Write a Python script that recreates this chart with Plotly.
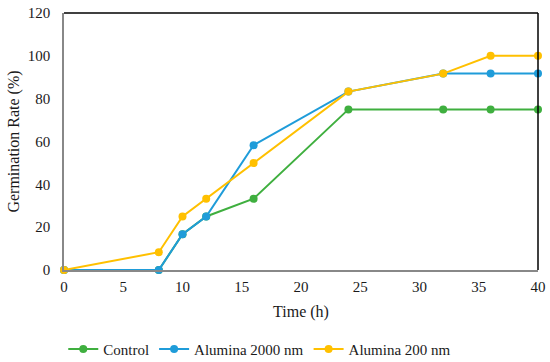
import plotly.graph_objects as go

time_h = [0, 8, 10, 12, 16, 24, 32, 36, 40]
control = [0, 0, 16.7, 25, 33.3, 75, 75, 75, 75]
alumina_2000 = [0, 0, 16.7, 25, 58.3, 83.3, 91.7, 91.7, 91.7]
alumina_200 = [0, 8.3, 25, 33.3, 50, 83.3, 91.7, 100, 100]

series = [
    ("Control", control, "#3FAF3F"),
    ("Alumina 2000 nm", alumina_2000, "#1F9CD9"),
    ("Alumina 200 nm", alumina_200, "#FFC000"),
]

FAM = "Liberation Serif"
INK = "#1a1a1a"

fig = go.Figure()
for name, vals, col in series:
    fig.add_trace(go.Scatter(x=time_h, y=vals, name=name, mode="lines+markers",
                             line=dict(color=col, width=2),
                             marker=dict(color=col, size=8), cliponaxis=False))

fig.update_layout(
    width=550, height=362,
    margin=dict(l=64, r=12, t=13, b=92, autoexpand=False),
    plot_bgcolor="white", paper_bgcolor="white",
    font=dict(family=FAM, color=INK, size=15),
    showlegend=True,
    legend=dict(orientation="h", x=0.413, xanchor="center", yref="container", y=0.035,
                yanchor="middle", font=dict(family=FAM, size=15, color=INK), tracegroupgap=0),
    xaxis=dict(range=[0, 40], dtick=5, showgrid=False, showline=True, automargin=False,
               linecolor="#888", linewidth=1.5, mirror=False, zeroline=False,
               ticks="", ticklabelstandoff=2,
               tickfont=dict(family=FAM, size=15, color=INK),
               title=dict(text="Time (h)", font=dict(family=FAM, size=16, color=INK), standoff=12)),
    yaxis=dict(range=[0, 120], dtick=20, showgrid=False, showline=True, automargin=False,
               linecolor="#888", linewidth=1.5, zeroline=False, ticks="", ticklabelstandoff=9,
               tickfont=dict(family=FAM, size=15, color=INK),
               title=dict(text="Germination Rate (%)", font=dict(family=FAM, size=16, color=INK), standoff=4)),
)
fig.add_shape(type="line", xref="paper", yref="paper", x0=0, x1=1, y0=1, y1=1,
              line=dict(color="black", width=1.5))
fig.add_shape(type="line", xref="paper", yref="paper", x0=1, x1=1, y0=0, y1=1,
              line=dict(color="black", width=1.5))
fig.write_html("out.html", config={"displayModeBar": False},
               post_script="document.body.style.margin='0';")
